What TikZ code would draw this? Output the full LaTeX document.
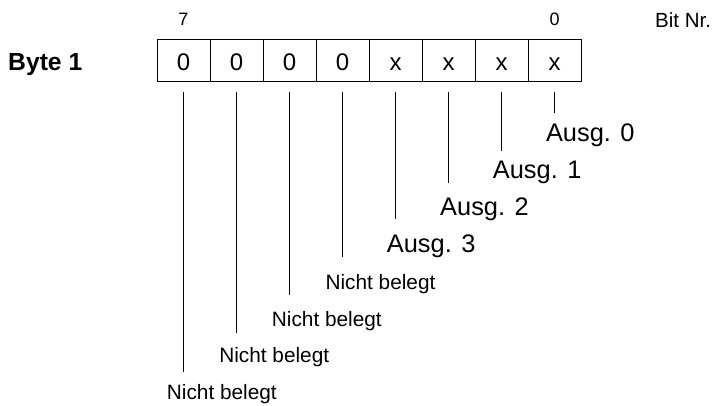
\documentclass[tikz,border=0pt]{standalone}
\usepackage{fontspec}
\setmainfont{Liberation Sans}
\usetikzlibrary{positioning}
\tikzstyle{bit-cell} = [draw, rectangle, line width=0.9pt,
    minimum width=53pt, minimum height=42pt, inner sep=0pt, outer sep=0pt,
    text height=20pt, text depth=0pt, font=\fontsize{24}{28}\selectfont]
\tikzstyle{bit-index} = [inner sep=0pt, font=\fontsize{18}{22}\selectfont]
\tikzstyle{out-label} = [anchor=base west, inner sep=0pt, font=\fontsize{25.4}{30}\selectfont]
\tikzstyle{free-label} = [anchor=base west, inner sep=0pt, font=\fontsize{20.8}{25}\selectfont]
\tikzstyle{bit-line} = [line width=0.8pt]

\begin{document}
\begin{tikzpicture}[x=1pt, y=-1pt]
\useasboundingbox (0,0) rectangle (714,405);
\node[anchor=base west, inner sep=0pt, font=\bfseries\fontsize{24.7}{30}\selectfont] (byte) at (8,70) {Byte 1};
\node[bit-cell] (b7) at (183.5,60.5) {0};
\node[bit-cell, right=0pt of b7] (b6) {0};
\node[bit-cell, right=0pt of b6] (b5) {0};
\node[bit-cell, right=0pt of b5] (b4) {0};
\node[bit-cell, right=0pt of b4] (b3) {x};
\node[bit-cell, right=0pt of b3] (b2) {x};
\node[bit-cell, right=0pt of b2] (b1) {x};
\node[bit-cell, right=0pt of b1] (b0) {x};
\node[bit-index, above=14pt of b7] (msb) {7};
\node[bit-index, above=14pt of b0] (lsb) {0};
\node[anchor=base west, inner sep=0pt, font=\fontsize{20.5}{25}\selectfont] (bitnr) at (655,27.5) {Bit Nr.};

\draw[bit-line] ([yshift=-10pt]b0.south) -- (b0.south |- 0,113.3) coordinate (e0);
\draw[bit-line] ([yshift=-10pt]b1.south) -- (b1.south |- 0,150.7) coordinate (e1);
\draw[bit-line] ([yshift=-10pt]b2.south) -- (b2.south |- 0,182.7) coordinate (e2);
\draw[bit-line] ([yshift=-10pt]b3.south) -- (b3.south |- 0,219) coordinate (e3);
\draw[bit-line] ([yshift=-10pt]b4.south) -- (b4.south |- 0,256.7) coordinate (e4);
\draw[bit-line] ([yshift=-10pt]b5.south) -- (b5.south |- 0,295) coordinate (e5);
\draw[bit-line] ([yshift=-10pt]b6.south) -- (b6.south |- 0,333.3) coordinate (e6);
\draw[bit-line] ([yshift=-10pt]b7.south) -- (b7.south |- 0,371.7) coordinate (e7);

\node[out-label] (out0) at (545.8,141) {Ausg. 0};
\node[out-label] (out1) at (492.7,178) {Ausg. 1};
\node[out-label] (out2) at (440,215) {Ausg. 2};
\node[out-label] (out3) at (386.7,252) {Ausg. 3};
\node[free-label] (free4) at (325.4,289) {Nicht belegt};
\node[free-label] (free5) at (271.7,326) {Nicht belegt};
\node[free-label] (free6) at (219.1,362.7) {Nicht belegt};
\node[free-label] (free7) at (166.7,399.5) {Nicht belegt};
\end{tikzpicture}
\end{document}
